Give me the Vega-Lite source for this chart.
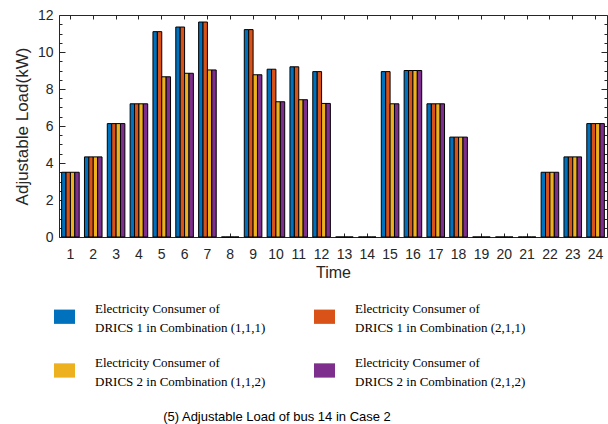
{
  "$schema": "https://vega.github.io/schema/vega-lite/v6.json",
  "width": 548,
  "height": 222,
  "autosize": {"type": "none"},
  "padding": {"left": 59, "top": 15, "right": 1, "bottom": 187},
  "background": "white",
  "title": {
    "text": "(5) Adjustable Load of bus 14 in Case 2",
    "orient": "bottom",
    "anchor": "middle",
    "font": "Liberation Sans",
    "fontSize": 13,
    "fontWeight": "normal",
    "color": "#000000",
    "offset": 22,
    "dx": -56
  },
  "data": {
    "values": [
      {"hour": 1, "A": 3.5, "B": 3.5, "C": 3.5, "D": 3.5},
      {"hour": 2, "A": 4.33, "B": 4.33, "C": 4.33, "D": 4.33},
      {"hour": 3, "A": 6.13, "B": 6.13, "C": 6.13, "D": 6.13},
      {"hour": 4, "A": 7.2, "B": 7.2, "C": 7.2, "D": 7.2},
      {"hour": 5, "A": 11.1, "B": 11.1, "C": 8.66, "D": 8.66},
      {"hour": 6, "A": 11.35, "B": 11.35, "C": 8.85, "D": 8.85},
      {"hour": 7, "A": 11.62, "B": 11.62, "C": 9.03, "D": 9.03},
      {"hour": 8, "A": 0, "B": 0, "C": 0, "D": 0},
      {"hour": 9, "A": 11.21, "B": 11.21, "C": 8.77, "D": 8.77},
      {"hour": 10, "A": 9.07, "B": 9.07, "C": 7.31, "D": 7.31},
      {"hour": 11, "A": 9.2, "B": 9.2, "C": 7.42, "D": 7.42},
      {"hour": 12, "A": 8.94, "B": 8.94, "C": 7.22, "D": 7.22},
      {"hour": 13, "A": 0, "B": 0, "C": 0, "D": 0},
      {"hour": 14, "A": 0, "B": 0, "C": 0, "D": 0},
      {"hour": 15, "A": 8.94, "B": 8.94, "C": 7.2, "D": 7.2},
      {"hour": 16, "A": 9.0, "B": 9.0, "C": 9.0, "D": 9.0},
      {"hour": 17, "A": 7.2, "B": 7.2, "C": 7.2, "D": 7.2},
      {"hour": 18, "A": 5.4, "B": 5.4, "C": 5.4, "D": 5.4},
      {"hour": 19, "A": 0, "B": 0, "C": 0, "D": 0},
      {"hour": 20, "A": 0, "B": 0, "C": 0, "D": 0},
      {"hour": 21, "A": 0, "B": 0, "C": 0, "D": 0},
      {"hour": 22, "A": 3.5, "B": 3.5, "C": 3.5, "D": 3.5},
      {"hour": 23, "A": 4.33, "B": 4.33, "C": 4.33, "D": 4.33},
      {"hour": 24, "A": 6.13, "B": 6.13, "C": 6.13, "D": 6.13}
    ]
  },
  "transform": [
    {"fold": ["A", "B", "C", "D"], "as": ["key", "load"]},
    {"lookup": "key", "from": {"data": {"values": [
      {"key": "A", "series": "Electricity Consumer of DRICS 1 in Combination (1,1,1)"},
      {"key": "B", "series": "Electricity Consumer of DRICS 1 in Combination (2,1,1)"},
      {"key": "C", "series": "Electricity Consumer of DRICS 2 in Combination (1,1,2)"},
      {"key": "D", "series": "Electricity Consumer of DRICS 2 in Combination (2,1,2)"}
    ]}, "key": "key", "fields": ["series"]}}
  ],
  "config": {
    "view": {"stroke": null},
    "style": {"guide-label": {"lineHeight": 19}},
    "axis": {
      "labelFont": "Liberation Sans",
      "titleFont": "Liberation Sans",
      "labelColor": "#262626",
      "titleColor": "#262626",
      "domainColor": "#262626",
      "tickColor": "#262626",
      "grid": false,
      "titleFontWeight": "normal"
    }
  },
  "resolve": {"axis": {"x": "independent", "y": "independent"}},
  "layer": [
    {
      "mark": {"type": "bar", "stroke": "#000000", "strokeWidth": 1},
      "encoding": {
        "x": {
          "field": "hour", "type": "ordinal",
          "scale": {"paddingInner": 0.23, "paddingOuter": 0.115},
          "axis": {
            "orient": "bottom", "title": "Time", "labelAngle": 0,
            "labelFontSize": 14, "titleFontSize": 16, "tickSize": -4,
            "labelPadding": 14, "titlePadding": 3
          }
        },
        "xOffset": {
          "field": "series", "type": "nominal",
          "scale": {"paddingInner": 0, "paddingOuter": 0}
        },
        "y": {
          "field": "load", "type": "quantitative",
          "scale": {"domain": [0, 12], "nice": false},
          "axis": {
            "orient": "left", "title": "Adjustable Load(kW)",
            "values": [0, 0.5, 1, 1.5, 2, 2.5, 3, 3.5, 4, 4.5, 5, 5.5, 6, 6.5, 7, 7.5, 8, 8.5, 9, 9.5, 10, 10.5, 11, 11.5, 12],
            "labelExpr": "datum.value % 2 == 0 ? format(datum.value, 'd') : ''",
            "tickSize": {"condition": {"test": "datum.value % 2 == 0", "value": -6}, "value": -3},
            "labelFontSize": 14, "titleFontSize": 17, "labelPadding": 12,
            "titlePadding": 6, "labelFlush": false
          }
        },
        "color": {
          "field": "series", "type": "nominal",
          "scale": {
            "domain": [
              "Electricity Consumer of DRICS 1 in Combination (1,1,1)",
              "Electricity Consumer of DRICS 1 in Combination (2,1,1)",
              "Electricity Consumer of DRICS 2 in Combination (1,1,2)",
              "Electricity Consumer of DRICS 2 in Combination (2,1,2)"
            ],
            "range": ["#0072BD", "#D95319", "#EDB120", "#7E2F8E"]
          },
          "legend": {
            "orient": "none",
            "direction": "horizontal",
            "legendX": -5,
            "legendY": 283,
            "columns": 2,
            "title": null,
            "symbolType": "M-1,0.08L1,0.08L1,1.44L-1,1.44Z",
            "symbolSize": 441,
            "symbolStrokeWidth": 0,
            "symbolOpacity": 1,
            "labelFont": "Liberation Serif",
            "labelFontSize": 13,
            "labelColor": "#000000",
            "labelLimit": 300,
            "labelOffset": 20,
            "columnPadding": 48,
            "rowPadding": 17,
            "labelExpr": "split(replace(datum.label, ' of ', ' of|'), '|')"
          }
        }
      }
    },
    {
      "mark": {"type": "bar", "opacity": 0},
      "encoding": {
        "x": {
          "field": "hour", "type": "ordinal",
          "axis": {"orient": "top", "title": null, "labels": false, "tickSize": -4}
        },
        "y": {
          "field": "load", "type": "quantitative",
          "axis": {
            "orient": "right", "title": null, "labels": false,
            "values": [0, 0.5, 1, 1.5, 2, 2.5, 3, 3.5, 4, 4.5, 5, 5.5, 6, 6.5, 7, 7.5, 8, 8.5, 9, 9.5, 10, 10.5, 11, 11.5, 12],
            "tickSize": {"condition": {"test": "datum.value % 2 == 0", "value": -6}, "value": -3}
          }
        }
      }
    }
  ]
}
